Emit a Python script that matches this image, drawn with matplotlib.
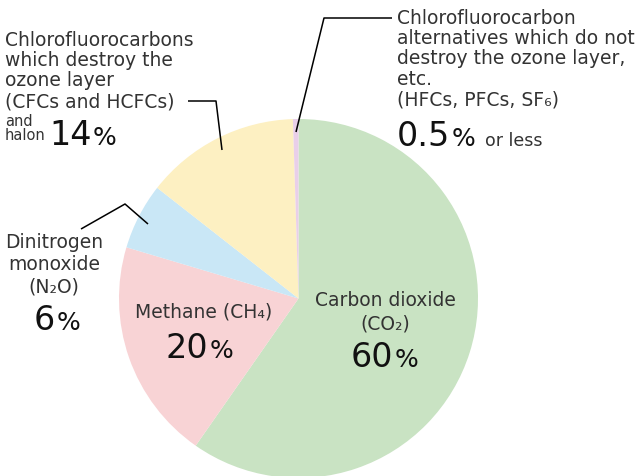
import matplotlib
matplotlib.use("Agg")
from matplotlib import pyplot as plt

# -- data -- #
gases = ["Carbon dioxide", "Methane", "Dinitrogen monoxide", "CFCs and halon", "CFC alternatives"]
shares = [60, 20, 6, 14, 0.5]
colors = ["#c9e3c3", "#f8d3d5", "#c9e7f6", "#fdf0c2", "#e9cfe9"]
share_text = ["60", "20", "6", "14", "0.5"]

FONT = ["DejaVu Sans"]
TXT = "#333333"
NUM = "#111111"

fig = plt.figure(figsize=(6.44, 4.77), dpi=100)
ax = fig.add_axes([0, 0, 1, 1])

# y axis runs downwards (pixel-like), so start at -90 and go "counterclock"
# which shows up clockwise from the top on screen
ax.pie(shares, colors=colors, startangle=-90, counterclock=True,
       center=(298.5, 299.5), radius=179.5,
       wedgeprops={"linewidth": 0})

ax.set_xlim(0, 644)
ax.set_ylim(477, 0)
ax.set_aspect("equal")
ax.axis("off")

renderer = fig.canvas.get_renderer()


def label(x, y, s, size=13.5, ha="left", va="center"):
    return ax.text(x, y, s, fontsize=size, ha=ha, va=va, color=TXT, family=FONT)


def share(x, y, s):
    # big number, then the percent sign right after it on the same baseline
    t = ax.text(x, y, s, fontsize=24, ha="left", va="baseline", color=NUM, family=FONT)
    bb = t.get_window_extent(renderer)
    x_end = ax.transData.inverted().transform((bb.x1, bb.y0))[0]
    ax.text(x_end + 1, y, "%", fontsize=18, ha="left", va="baseline", color=NUM, family=FONT)
    return x_end


# leader lines
lines = [
    ([296, 324, 392], [133, 19, 19]),
    ([188, 216, 222], [102, 102, 151]),
    ([81, 125, 148], [230, 205, 225]),
]
for xs, ys in lines:
    ax.plot(xs, ys, color="black", linewidth=1.1, solid_capstyle="butt")

# CFCs (top left)
for i, s in enumerate(["Chlorofluorocarbons", "which destroy the",
                       "ozone layer", "(CFCs and HCFCs)"]):
    label(5, 40 + i * 20.5, s)
label(5, 121, "and", size=10.5)
label(5, 136, "halon", size=10.5)
share(49, 145, share_text[3])

# CFC alternatives (top right)
for i, s in enumerate(["Chlorofluorocarbon", "alternatives which do not",
                       "destroy the ozone layer,", "etc.", "(HFCs, PFCs, SF₆)"]):
    label(397, 18 + i * 20.5, s)
share(397, 146, share_text[4])
label(485, 146, "or less", size=12.5, va="baseline")

# N2O
label(54, 243, "Dinitrogen", ha="center")
label(54, 265, "monoxide", ha="center")
label(54, 287, "(N₂O)", ha="center")
share(34, 330, share_text[2])

# Methane
label(204, 312, "Methane (CH₄)", ha="center")
share(166, 358, share_text[1])

# CO2
label(385, 301, "Carbon dioxide", ha="center")
label(385, 324, "(CO₂)", ha="center")
share(351, 367, share_text[0])

fig.savefig("out.png", dpi=100)
